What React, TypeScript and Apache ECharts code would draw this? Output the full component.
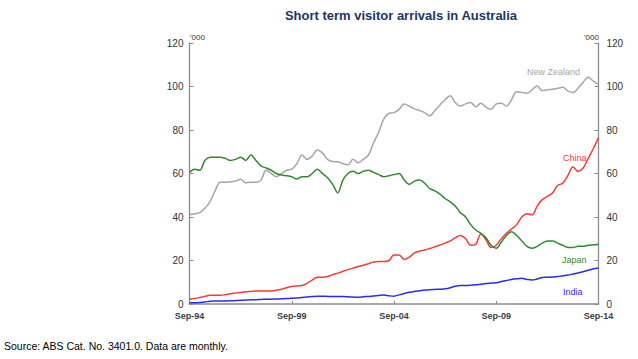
import React, { useEffect, useRef } from "react";
import * as echarts from "echarts";

const TITLE = "Short term visitor arrivals in Australia";
const SOURCE = "Source: ABS Cat. No. 3401.0. Data are monthly.";
const TICK_LABELS = ["Sep-94", "Sep-99", "Sep-04", "Sep-09", "Sep-14"];
const Y_TICKS = [0, 20, 40, 60, 80, 100, 120];

// quarterly readings, Sep-94 .. Sep-14 (81 points), '000
const newZealand = [
  41, 41.5, 42, 44, 47, 52, 56, 56, 56.2, 56.5, 57.3, 55.8, 56, 56, 57, 61.5, 60, 58.5, 60, 61.5,
  62, 64.5, 68.5, 66.5, 68, 70.8, 69.5, 66.5, 65.5, 65.4, 64.5, 64, 66.5, 65, 66.5, 68.5, 74, 79, 85, 87.7,
  88, 89.5, 92, 91, 89.7, 89, 88, 86.5, 89, 91.5, 94, 95.8, 92.5, 91, 92, 92.6, 90.7, 92.3, 90.5, 89.5,
  92, 92.3, 91, 94, 97.6, 97.3, 96.9, 98.5, 100.2, 98.1, 98.5, 98.7, 99.2, 99.6, 98, 97.2, 99.2, 102, 104.2, 102.5,
  101,
];
const china = [
  2.2, 2.5, 3, 3.5, 4, 4, 4, 4.3, 4.7, 5, 5.3, 5.6, 5.8, 6, 6, 6, 6, 6.3, 6.8, 7.5,
  8, 8.3, 8.5, 9.5, 11, 12.3, 12.3, 12.6, 13.5, 14.2, 15, 15.8, 16.5, 17.2, 17.8, 18.5, 19.3, 19.5, 19.5, 20,
  22.5, 22.5, 20.5, 21.5, 23.5, 24.3, 24.8, 25.5, 26.3, 27.1, 28, 29, 30.5, 31.5, 30, 27, 27.5, 32.2, 29.5, 26,
  27, 30, 32.5, 34.5, 36.5, 40, 41.5, 41, 45, 48, 49.5, 51, 54.5, 55.5, 59, 63, 61, 62.5, 67, 71.5,
  76.5,
];
const japan = [
  60.5, 62, 61.5, 66, 67.5, 67.5, 67.5, 67, 66, 66.5, 67.5, 66, 68.5, 66, 63.5, 62.5, 61.5, 60, 59.3, 59,
  58.5, 57.5, 58.5, 58.5, 60, 62, 60, 58, 55, 51.2, 57, 60, 61, 60, 61, 61.5, 60.5, 59.5, 58.5, 59,
  59.5, 60, 57, 55, 56.5, 57, 55.5, 53, 52, 50.5, 48.5, 47, 45, 42, 40, 36.5, 34, 32.5, 30.5, 27,
  25.6, 28.5, 31.5, 33.2, 31.5, 29, 26.5, 25.6, 26.5, 28, 29, 29, 28, 27, 26, 26, 26.5, 26.5, 27, 27.2,
  27.5,
];
const india = [
  0.6, 0.6, 0.7, 0.9, 1.3, 1.4, 1.4, 1.4, 1.5, 1.6, 1.7, 1.8, 1.9, 2, 2.1, 2.2, 2.2, 2.3, 2.4, 2.5,
  2.6, 2.8, 3, 3.2, 3.4, 3.6, 3.6, 3.5, 3.4, 3.4, 3.4, 3.3, 3.2, 3.1, 3.3, 3.5, 3.7, 3.9, 4.1, 3.8,
  3.6, 4.2, 4.8, 5.4, 5.8, 6.1, 6.4, 6.6, 6.7, 6.8, 7, 7.5, 8.2, 8.5, 8.5, 8.6, 8.8, 9.1, 9.4, 9.6,
  9.8, 10.3, 10.8, 11.3, 11.6, 11.8, 11.3, 11, 11.5, 12.2, 12.3, 12.4, 12.6, 13, 13.3, 13.8, 14.3, 14.8, 15.5, 16.2,
  16.6,
];

const MONTHS = ["Sep", "Dec", "Mar", "Jun"];
const categories: string[] = [];
for (let i = 0; i < 81; i++) {
  const m = MONTHS[i % 4];
  const year = 1994 + Math.floor((i + 1) / 4);
  categories.push(m + "-" + String(year % 100).padStart(2, "0"));
}

const FONT = "Arial, 'Liberation Sans', sans-serif";
const AXIS_COLOR = "#8c8c8c";
const C_NZ = "#a6a6a6";
const C_CN = "#f23b3b";
const C_JP = "#2f8a2f";
const C_IN = "#2b2bf0";

export default function App() {
  const ref = useRef<HTMLDivElement>(null);
  useEffect(() => {
    if (!ref.current) return;
    const chart = echarts.init(ref.current, null, { renderer: "svg" });
    const yAxisCommon = {
      type: "value",
      min: 0,
      max: 120,
      interval: 20,
      splitLine: { show: false },
      axisLine: { show: true, lineStyle: { color: AXIS_COLOR, width: 1.3 } },
      axisTick: { show: true, inside: true, length: 4, lineStyle: { color: AXIS_COLOR } },
    };
    const line = (name: string, data: number[], color: string) => ({
      name,
      type: "line",
      data,
      smooth: 0.35,
      symbol: "none",
      lineStyle: { color, width: 1.5 },
      yAxisIndex: 0,
    });
    chart.setOption({
      animation: false,
      backgroundColor: "#ffffff",
      textStyle: { fontFamily: FONT },
      title: {
        text: TITLE,
        left: 396,
        top: 4,
        textAlign: "center",
        textStyle: { fontFamily: FONT, fontSize: 13, fontWeight: "bold", color: "#1b3764" },
      },
      grid: { left: 189.5, right: 39.5, top: 43, bottom: 55, containLabel: false },
      xAxis: {
        type: "category",
        data: categories,
        boundaryGap: false,
        axisLine: { show: true, lineStyle: { color: AXIS_COLOR, width: 1.6 } },
        axisTick: { show: true, inside: true, length: 3, interval: 19, lineStyle: { color: AXIS_COLOR } },
        axisLabel: {
          interval: 19,
          margin: 7,
          fontSize: 9,
          fontWeight: "bold",
          color: "#404040",
          fontFamily: FONT,
          formatter: (v: string) => (TICK_LABELS.includes(v) ? v : ""),
        },
        splitLine: { show: false },
      },
      yAxis: [
        {
          ...yAxisCommon,
          position: "left",
          axisLabel: { margin: 6, fontSize: 10, color: "#333333", fontFamily: FONT,
            formatter: (v: number) => (Y_TICKS.includes(v) ? String(v) : "") },
        },
        {
          ...yAxisCommon,
          position: "right",
          axisLabel: { margin: 8, fontSize: 10, color: "#333333", fontFamily: FONT,
            formatter: (v: number) => (Y_TICKS.includes(v) ? String(v) : "") },
        },
      ],
      series: [
        line("New Zealand", newZealand, C_NZ),
        line("China", china, C_CN),
        line("Japan", japan, C_JP),
        line("India", india, C_IN),
      ],
      graphic: [
        { type: "text", left: 190, top: 33, style: { text: "'000", fontSize: 8, fill: "#333333", fontFamily: FONT } },
        { type: "text", left: 584, top: 33, style: { text: "'000", fontSize: 8, fill: "#333333", fontFamily: FONT } },
        { type: "text", left: 527, top: 67, style: { text: "New Zealand", fontSize: 9, fill: C_NZ, fontFamily: FONT } },
        { type: "text", left: 563, top: 153, style: { text: "China", fontSize: 9, fill: C_CN, fontFamily: FONT } },
        { type: "text", left: 562, top: 255, style: { text: "Japan", fontSize: 9, fill: C_JP, fontFamily: FONT } },
        { type: "text", left: 563, top: 287, style: { text: "India", fontSize: 9, fill: C_IN, fontFamily: FONT } },
        { type: "text", left: 4, top: 340, style: { text: SOURCE, fontSize: 10.5, fill: "#000000", fontFamily: FONT } },
      ],
    });
    return () => chart.dispose();
  }, []);
  return (
    <div
      ref={ref}
      style={{ position: "fixed", left: 0, top: 0, width: 638, height: 359, background: "#fff" }}
    />
  );
}
